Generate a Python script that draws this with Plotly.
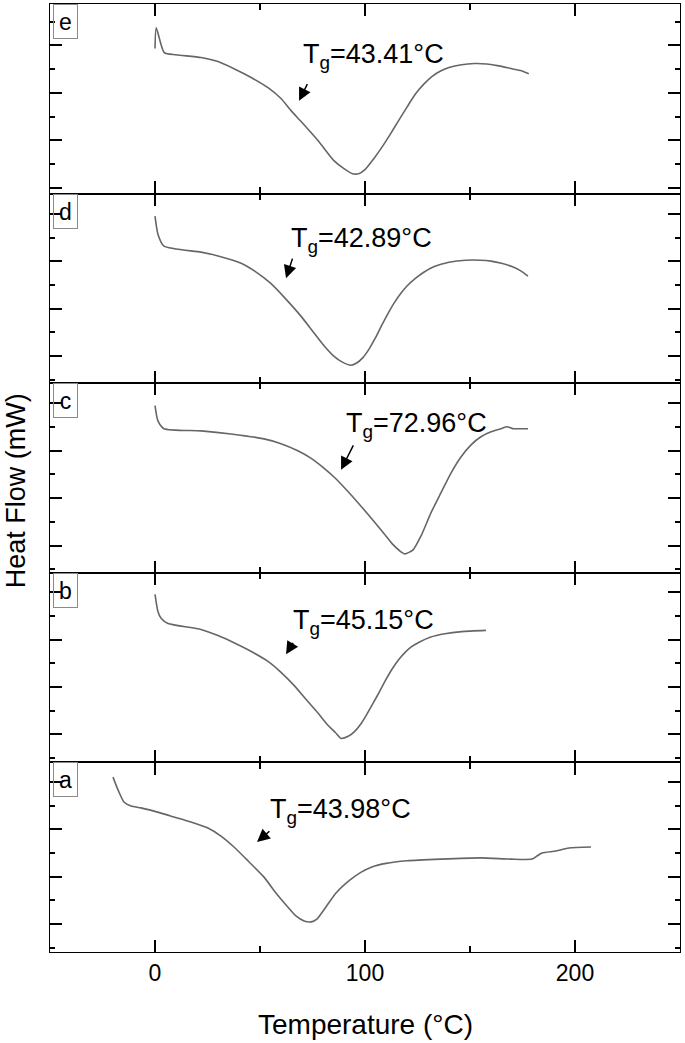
import plotly.graph_objects as go
from plotly.subplots import make_subplots

# ---- data (Temperature in °C, heat flow in arbitrary panel units) ----
e_T = [0, 0.6, 4.4, 10, 22, 30, 37.6, 46, 53.8, 60, 64.8, 70, 77.6, 85.2, 90, 94, 97, 100, 104, 108, 112, 116, 120, 124, 128, 132, 136, 140, 146, 152, 158, 163, 168, 171, 174, 178]
e_H = [6.12, 7.00, 5.95, 5.86, 5.74, 5.57, 5.27, 4.89, 4.47, 4.01, 3.50, 3.00, 2.24, 1.39, 1.05, 0.84, 0.84, 1.01, 1.45, 1.95, 2.50, 3.08, 3.65, 4.20, 4.62, 4.95, 5.17, 5.32, 5.44, 5.49, 5.47, 5.40, 5.31, 5.25, 5.19, 5.06]

d_T = [0, 1.4, 4.3, 21.9, 30, 41, 48, 55, 62, 69.5, 75, 80, 85, 89, 93.3, 96, 99, 102, 105, 108, 111, 114, 117, 120, 124, 128, 133, 140, 148, 155, 160, 165, 170, 174, 177.6]
d_H = [7.05, 6.29, 5.78, 5.53, 5.37, 5.06, 4.70, 4.22, 3.58, 2.83, 2.20, 1.63, 1.15, 0.90, 0.76, 0.85, 1.08, 1.45, 1.92, 2.45, 2.95, 3.40, 3.78, 4.10, 4.42, 4.68, 4.92, 5.10, 5.19, 5.19, 5.15, 5.06, 4.92, 4.75, 4.52]

c_T = [0, 1.4, 4.3, 21.9, 36.2, 51.9, 60, 68, 74, 80, 86, 92, 98, 104, 109, 113, 116.5, 119, 122.9, 126.7, 131.4, 136.2, 141, 145.7, 150.5, 155.2, 160, 164.8, 167.6, 170.5, 174.3, 177.6]
c_H = [7.05, 6.41, 6.08, 5.99, 5.86, 5.65, 5.45, 5.15, 4.85, 4.45, 3.98, 3.42, 2.82, 2.20, 1.66, 1.22, 0.93, 0.80, 0.97, 1.56, 2.53, 3.38, 4.22, 4.89, 5.40, 5.74, 5.95, 6.08, 6.16, 6.08, 6.08, 6.08]

b_T = [0, 1.4, 2.9, 6.2, 21.9, 30, 37.6, 45, 53.8, 60, 66.2, 72, 77.6, 82, 86, 88.6, 92, 95, 98, 101, 104, 107, 110, 113, 116, 119, 122, 126, 131, 138, 146, 157.6]
b_H = [7.09, 6.37, 6.08, 5.86, 5.61, 5.35, 5.05, 4.72, 4.26, 3.80, 3.25, 2.65, 2.08, 1.60, 1.25, 1.01, 1.10, 1.30, 1.62, 2.05, 2.52, 3.00, 3.50, 3.95, 4.33, 4.63, 4.87, 5.08, 5.28, 5.43, 5.52, 5.57]

a_T = [-20, -17.6, -14.8, -11.4, -6.7, 2.9, 9, 17.1, 25.2, 31.4, 37.6, 44.8, 51.9, 57.6, 62.4, 67.1, 71, 74.3, 77.1, 81.4, 86.2, 92.9, 98, 103.3, 110, 120, 136.2, 155.2, 169.5, 179.5, 181.9, 184.3, 191, 197.1, 207.6]
a_H = [7.38, 6.84, 6.33, 6.16, 6.08, 5.86, 5.70, 5.49, 5.23, 4.89, 4.43, 3.80, 3.16, 2.49, 1.98, 1.52, 1.31, 1.27, 1.39, 1.90, 2.49, 3.04, 3.36, 3.59, 3.74, 3.85, 3.92, 3.97, 3.92, 3.92, 4.05, 4.18, 4.26, 4.39, 4.43]

panel_labels = ["e", "d", "c", "b", "a"]
tg_labels = ["43.41", "42.89", "72.96", "45.15", "43.98"]
# Tg annotation: text anchor (T, H), arrow tip (T, H), arrow tail (T, H)
tg_text_pos = [(69.5, 5.82), (63.8, 6.03), (90.0, 6.24), (64.8, 5.91), (53.8, 5.95)]
tg_tip = [(68.6, 3.92), (62.4, 4.43), (88.6, 4.35), (62.4, 4.56), (48.6, 4.64)]
tg_tail = [(72.9, 4.68), (65.7, 5.32), (94.8, 5.44), (66.2, 5.11), (55.2, 5.15)]
ytick_offsets = [0.25, 1.14, 1.15, 1.18, 1.18]

x_ticks = [0, 100, 200]
x_range = [-50, 250]
y_range = [0, 8]

series = [(e_T, e_H), (d_T, d_H), (c_T, c_H), (b_T, b_H), (a_T, a_H)]

FONT = "Liberation Sans, Arial, sans-serif"
CURVE = "#666666"

fig = make_subplots(rows=5, cols=1, shared_xaxes=True, vertical_spacing=0)

for i, (T, H) in enumerate(series):
    fig.add_trace(go.Scatter(x=T, y=H, mode="lines",
                             line=dict(color=CURVE, width=1.6, shape="spline", smoothing=0.6),
                             hoverinfo="skip"), row=i + 1, col=1)

annotations = []
for i in range(5):
    n = "" if i == 0 else str(i + 1)
    xr, yr = "x" + n, "y" + n
    # panel label box
    annotations.append(dict(text=panel_labels[i], xref="paper", yref=yr + " domain",
                            x=0.005, y=1.0, xanchor="left", yanchor="top", showarrow=False,
                            font=dict(family=FONT, size=23, color="black"),
                            bordercolor="#8a8a8a", borderwidth=1, borderpad=1,
                            width=21, height=31, bgcolor="rgba(0,0,0,0)"))
    # Tg text
    tx, ty = tg_text_pos[i]
    annotations.append(dict(text="T<sub>g</sub>=" + tg_labels[i] + "°C", xref=xr, yref=yr,
                            x=tx, y=ty, xanchor="left", yanchor="middle", showarrow=False,
                            font=dict(family=FONT, size=27, color="black")))
    # arrow
    (hx, hy), (ax, ay) = tg_tip[i], tg_tail[i]
    annotations.append(dict(text="", xref=xr, yref=yr, axref=xr, ayref=yr,
                            x=hx, y=hy, ax=ax, ay=ay, showarrow=True,
                            arrowhead=2, arrowsize=1.7, arrowwidth=1.5, arrowcolor="black",
                            standoff=0, startstandoff=0))

annotations.append(dict(text="Heat Flow (mW)", xref="paper", yref="paper",
                        x=-0.054, y=0.487, xanchor="center", yanchor="middle",
                        textangle=-90, showarrow=False,
                        font=dict(family=FONT, size=27, color="black")))
annotations.append(dict(text="Temperature (°C)", xref="paper", yref="paper",
                        x=0.5, y=-0.077, xanchor="center", yanchor="middle",
                        showarrow=False, font=dict(family=FONT, size=28, color="black")))

for i in range(5):
    fig.update_xaxes(range=x_range, ticks="inside", ticklen=12, tickwidth=1.5, tickcolor="black",
                     tickmode="array", tickvals=x_ticks, ticktext=[str(v) for v in x_ticks],
                     minor=dict(ticks="inside", ticklen=6, tickwidth=1.5, tickcolor="black",
                                dtick=50, tick0=0),
                     showline=True, linewidth=1.4, linecolor="black", mirror="allticks",
                     showgrid=False, zeroline=False,
                     showticklabels=(i == 4),
                     tickfont=dict(family=FONT, size=23, color="black"),
                     row=i + 1, col=1)
    off = ytick_offsets[i]
    fig.update_yaxes(range=y_range, ticks="inside", ticklen=12, tickwidth=1.5, tickcolor="black",
                     tickmode="linear", tick0=off, dtick=2,
                     minor=dict(ticks="inside", ticklen=5, tickwidth=1.5, tickcolor="black",
                                tick0=off + 1, dtick=2),
                     showline=True, linewidth=1.4, linecolor="black", mirror="allticks",
                     showgrid=False, zeroline=False, showticklabels=False,
                     row=i + 1, col=1)

fig.update_layout(width=685, height=1043, margin=dict(l=50, r=5, t=4, b=91),
                  plot_bgcolor="white", paper_bgcolor="white", showlegend=False,
                  annotations=annotations, font=dict(family=FONT, color="black"))

fig.write_html("out.html", config={"displayModeBar": False},
               post_script="document.body.style.margin='0';document.body.style.overflow='hidden';")
